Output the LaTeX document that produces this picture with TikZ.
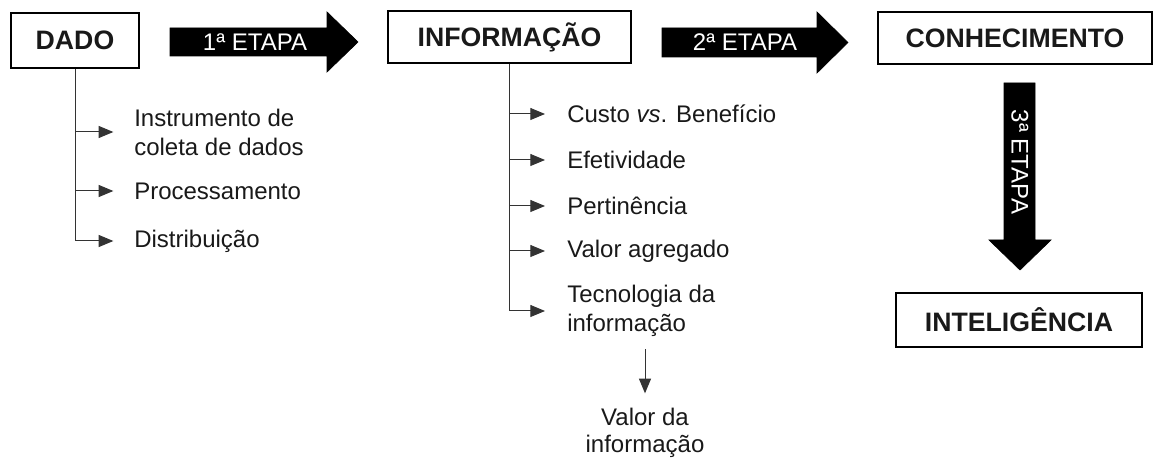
\documentclass[tikz,border=0pt]{standalone}
\usepackage{fontspec}
\setmainfont{Liberation Sans}
\usetikzlibrary{arrows.meta}
\tikzset{
  mainbox/.style={draw=black, line width=1.5pt, inner sep=0pt, font=\fontsize{20}{24}\selectfont\bfseries, text=black!90},
  item/.style={anchor=west, inner sep=0pt, align=left, font=\fontsize{18}{21.75}\selectfont, text=black!90},
  conn/.style={draw=black!80, line width=0.75pt, -{Triangle[length=11pt,width=9pt]}},
  bigarrow/.style={fill=black, draw=black, line width=0.5pt},
  etapa/.style={text=white, inner sep=0pt, font=\fontsize{18}{21}\selectfont}
}
\begin{document}
\begin{tikzpicture}[x=0.75pt,y=-0.75pt]
\useasboundingbox (0,0) rectangle (1158,459);
% main boxes
\node[mainbox, minimum width=96pt, minimum height=41.25pt] (dado) at (75,40.5) {DADO};
\node[mainbox, minimum width=182.25pt, minimum height=39pt] (info) at (509.5,37) {INFORMAÇÃO};
\node[mainbox, minimum width=205.5pt, minimum height=39pt] (conh) at (1015,38) {CONHECIMENTO};
\node[mainbox, minimum width=184.5pt, minimum height=40.5pt] (intel) at (1019,320) {INTELIGÊNCIA};
% stage arrows
\fill[bigarrow] (170,28) -- (327,28) -- (327,12) -- (358,42) -- (327,72) -- (327,56) -- (170,56) -- cycle;
\node[etapa] (e1) at (255,42) {1ª ETAPA};
\fill[bigarrow] (662,28) -- (817,28) -- (817,12) -- (848,42.5) -- (817,73) -- (817,57) -- (662,57) -- cycle;
\node[etapa] (e2) at (745,42.5) {2ª ETAPA};
\fill[bigarrow] (1004,83) -- (1035,83) -- (1035,240) -- (1051,240) -- (1020,270) -- (989,240) -- (1004,240) -- cycle;
\node[etapa, rotate=-90] (e3) at (1020,162) {3ª ETAPA};
% DADO items
\node[item] (d1) at (134,132) {Instrumento de\\coleta de dados};
\node[item] (d2) at (134,191) {Processamento};
\node[item] (d3) at (134,241) {Distribuição};
\foreach \n in {d1,d2,d3}
  \draw[conn, shorten >=15.5pt] (dado.south) |- (\n.west);
% INFORMACAO items
\node[item] (i1) at (567,114) {Custo \textit{vs}. Benefício};
\node[item] (i2) at (567,160) {Efetividade};
\node[item] (i3) at (567,206) {Pertinência};
\node[item] (i4) at (567,251) {Valor agregado};
\node[item] (i5) at (567,311) {Tecnologia da\\informação};
\foreach \n in {i1,i2,i3,i4,i5}
  \draw[conn, shorten >=16.5pt] (info.south) |- (\n.west);
% Valor da informacao
\node[inner sep=0pt, align=center, font=\fontsize{18}{20.25}\selectfont, text=black!90] (valor) at (645,433) {Valor da\\informação};
\draw[conn, shorten <=9pt, shorten >=11pt] (valor.north |- i5.south) -- (valor.north);
\end{tikzpicture}
\end{document}
